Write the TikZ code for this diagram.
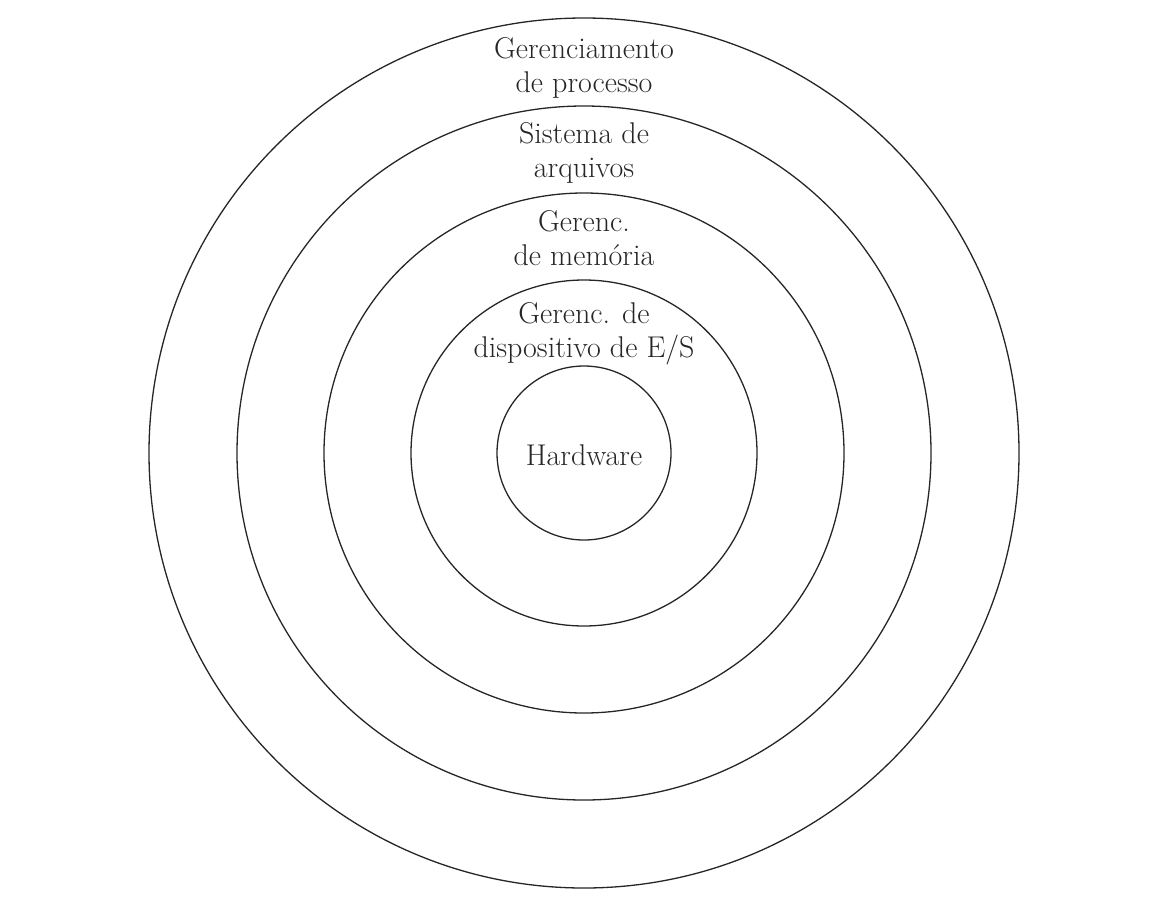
\documentclass[tikz,border=0pt]{standalone}
\begin{document}
\begin{tikzpicture}[x=1pt,y=-1pt,
  ring/.style={draw=black!85,line width=1.3pt},
  lbl/.style={align=center,anchor=base,inner sep=0pt,font=\fontsize{30}{34}\selectfont,text=black!85}]
\useasboundingbox (0,0) rectangle (1169,900);
\coordinate (c) at (584,453);
\draw[ring] (c) circle[radius=435];
\draw[ring] (c) circle[radius=347];
\draw[ring] (c) circle[radius=260];
\draw[ring] (c) circle[radius=173];
\draw[ring] (c) circle[radius=87];
\node[lbl] (proc) at (584,92) {Gerenciamento\\de processo};
\node[lbl] (arq) at (584,177) {Sistema de\\arquivos};
\node[lbl] (mem) at (584,265) {Gerenc.\\de memória};
\node[lbl] (es) at (584,357) {Gerenc. de\\dispositivo de E/S};
\node[lbl] (hw) at (584,465) {Hardware};
\end{tikzpicture}
\end{document}
